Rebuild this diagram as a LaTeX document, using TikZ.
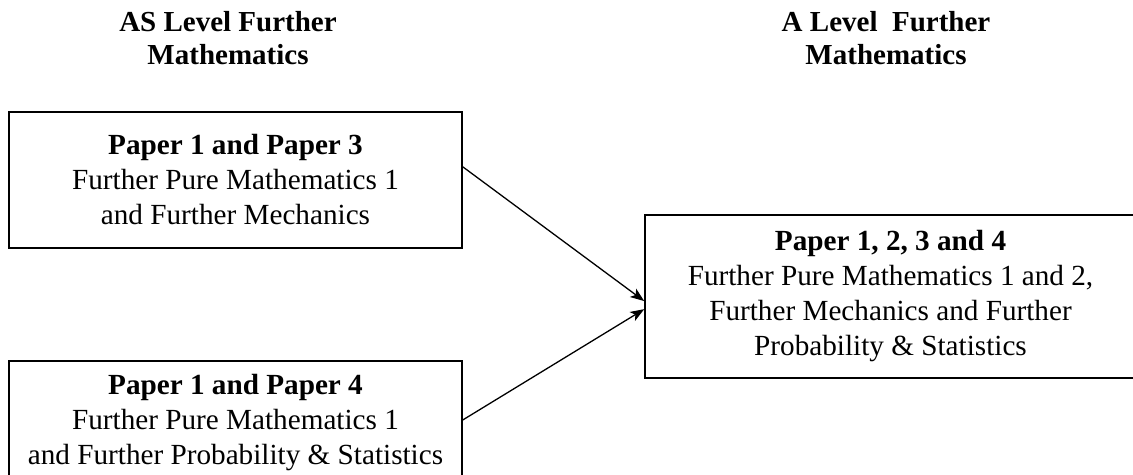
\documentclass[tikz,border=0pt]{standalone}
\usepackage{fontspec}
\setmainfont{Liberation Serif}
\usetikzlibrary{arrows.meta,calc}
\begin{document}
\begin{tikzpicture}[x=0.5pt,y=-0.5pt,
  box/.style={draw, line width=0.75pt, rectangle, inner sep=0pt, align=center,
    font=\fontsize{14.6}{17.5}\selectfont},
  head/.style={inner sep=0pt, align=center, font=\fontsize{14.5}{16.5}\selectfont\bfseries},
  conn/.style={line width=0.65pt, -{Stealth[length=7pt,width=5.2pt,inset=1.8pt]}}]
\useasboundingbox (0,0) rectangle (1133,475);
\clip (0,0) rectangle (1133,475);
\node[head, anchor=base] (h1) at (228,65) {AS Level Further\\Mathematics};
\node[head, anchor=base] (h2) at (886,65) {A Level\ \ Further\\Mathematics};
\node[box, minimum width=226.5pt, minimum height=68pt] (b1) at (235.5,180)
  {\textbf{Paper 1 and Paper 3}\\Further Pure Mathematics 1\\and Further Mechanics};
\node[box, minimum width=226.5pt, minimum height=62pt] (b2) at (235.5,423)
  {\textbf{Paper 1 and Paper 4}\\Further Pure Mathematics 1\\and Further Probability \& Statistics};
\node[box, minimum width=245.5pt, minimum height=81.5pt] (b3) at (890.5,296.5)
  {\textbf{Paper 1, 2, 3 and 4}\\Further Pure Mathematics 1 and 2,\\Further Mechanics and Further\\Probability \& Statistics};
\coordinate (s1) at ($(b1.north east)!0.404!(b1.south east)$);
\coordinate (s2) at ($(b2.north east)!0.476!(b2.south east)$);
\coordinate (e1) at ($(b3.north west)!0.528!(b3.south west)$);
\coordinate (e2) at ($(b3.north west)!0.577!(b3.south west)$);
\draw[conn] (s1) -- (e1);
\draw[conn] (s2) -- (e2);
\end{tikzpicture}
\end{document}
